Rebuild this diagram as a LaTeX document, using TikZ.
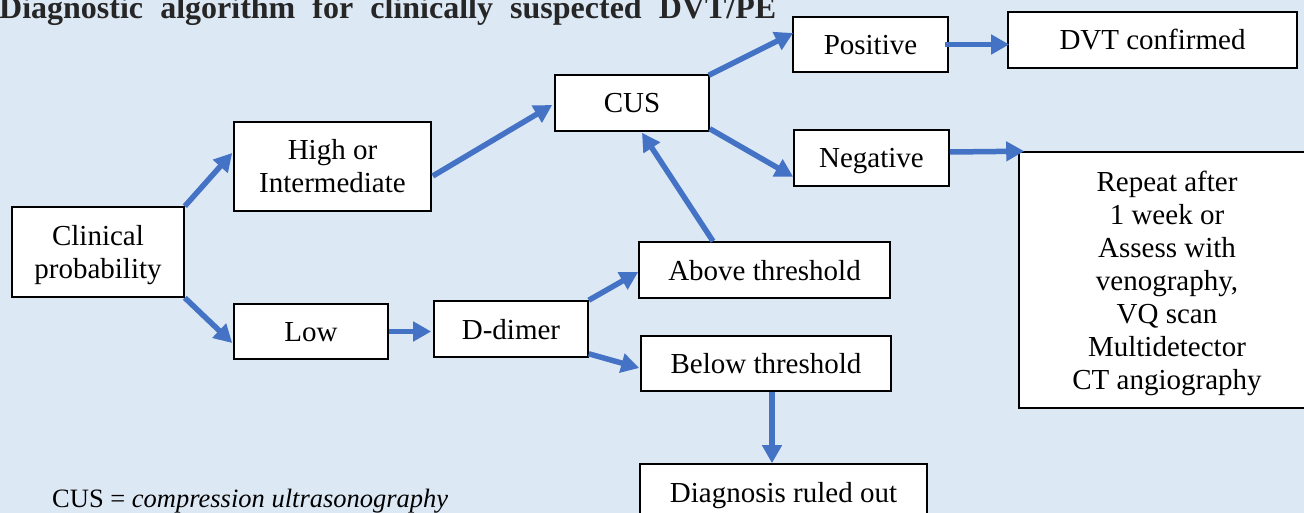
\documentclass[tikz,border=0pt]{standalone}
\usepackage{fontspec}
\setmainfont{Liberation Serif}
\usetikzlibrary{arrows.meta,calc}
\definecolor{bgblue}{HTML}{DDE8F5}
\definecolor{flowblue}{HTML}{4472C4}
\definecolor{titlegray}{HTML}{262626}
\begin{document}
\begin{tikzpicture}[x=1pt,y=-1pt,
  stepbox/.style={draw=black,line width=1.6pt,fill=white,inner sep=0pt,align=center,
    font=\fontsize{29}{33}\selectfont,text height=20pt,text depth=0pt},
  twoline/.style={text height=53pt},
  flow/.style={draw=flowblue,line width=5.5pt,-{Triangle[length=18pt,width=19pt]}}]
\clip (0,0) rectangle (1304,513);
\fill[bgblue] (0,0) rectangle (1304,513);

% title and footnote
\node[anchor=base west,inner sep=0pt,text=titlegray,font=\fontsize{32}{38}\selectfont\bfseries] (title) at (-1,19)
  {\makebox[777pt][s]{Diagnostic algorithm for clinically suspected DVT/PE}};
\node[anchor=base west,inner sep=0pt,font=\fontsize{26.5}{30}\selectfont] (note) at (52,507)
  {CUS = \textit{compression ultrasonography}};

% boxes
\node[stepbox,twoline,minimum width=172pt,minimum height=90pt] (clin) at (98,252) {Clinical\\probability};
\node[stepbox,twoline,minimum width=197pt,minimum height=89pt] (hi) at (332.5,166.5) {High or\\Intermediate};
\node[stepbox,minimum width=154pt,minimum height=55pt] (low) at (311,331.5) {Low};
\node[stepbox,minimum width=154pt,minimum height=56pt] (dd) at (511,329) {D-dimer};
\node[stepbox,minimum width=154pt,minimum height=56pt] (cus) at (632,103) {CUS};
\node[stepbox,minimum width=155pt,minimum height=55pt] (pos) at (870.5,44.5) {Positive};
\node[stepbox,minimum width=155pt,minimum height=56pt] (neg) at (871.5,158) {Negative};
\node[stepbox,minimum width=289pt,minimum height=56pt] (dvt) at (1152.5,40) {DVT confirmed};
\node[stepbox,text height=218pt,minimum width=296pt,minimum height=256pt] (rep) at (1167,280)
  {Repeat after\\1 week or\\Assess with\\venography,\\VQ scan\\Multidetector\\CT angiography};
\node[stepbox,minimum width=251pt,minimum height=56pt] (above) at (764.5,270) {Above threshold};
\node[stepbox,minimum width=250pt,minimum height=55pt] (below) at (766,363.5) {Below threshold};
\node[stepbox,minimum width=287pt,minimum height=56pt] (dro) at (783.5,492) {Diagnosis ruled out};

% connectors
\draw[flow] (clin.north east) -- ($(hi.west)+(-1,-13.5)$);
\draw[flow] (clin.south east) -- ($(low.west)+(-1,11.5)$);
\draw[flow] (low.east) -- ($(low.east -| dd.west)+(-2,0)$);
\draw[flow] ($(hi.east)+(1,9.5)$) -- ($(cus.west)+(-2,2)$);
\draw[flow] (dd.north east) -- ($(above.west)+(0,2)$);
\draw[flow] ($(dd.south east)+(0,-4)$) -- ($(below.west)+(-1,4.5)$);
\draw[flow] ($(above.north)+(-51.5,0)$) -- ($(cus.south)+(10,1)$);
\draw[flow] ($(cus.north east)+(-1,1)$) -- ($(pos.west)+(1,-11.5)$);
\draw[flow] ($(cus.south east)+(0,-3)$) -- ($(neg.south west)+(0,-10)$);
\draw[flow] ($(pos.east)+(-4,0)$) -- ($(pos.east -| dvt.west)+(2,0)$);
\draw[flow] ($(neg.east)+(0,-6)$) -- ($(rep.north west)+(6,0)$);
\coordinate (bsx) at ($(below.south)+(6,0)$);
\draw[flow] (bsx) -- (bsx |- dro.north);
\end{tikzpicture}
\end{document}
